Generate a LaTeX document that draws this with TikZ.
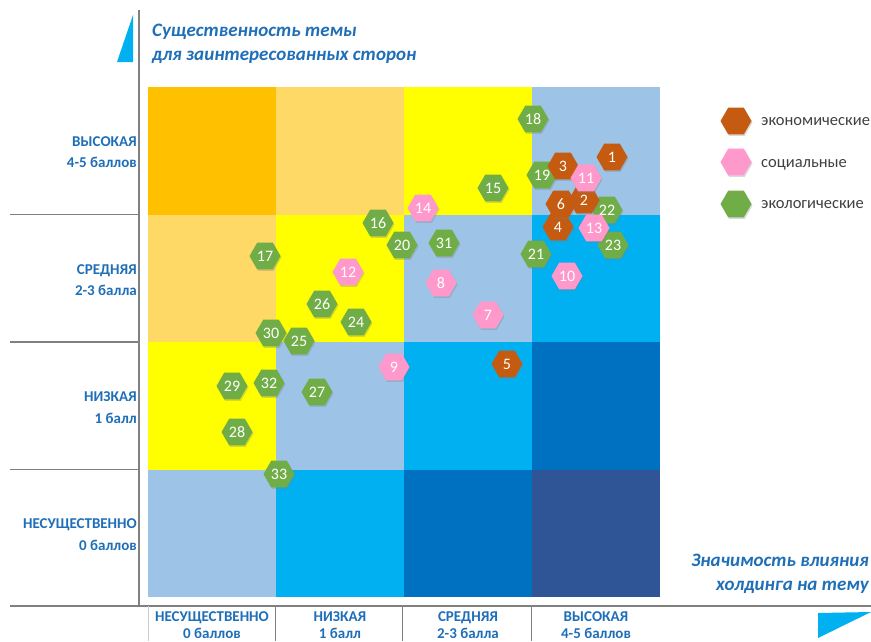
\documentclass[tikz,border=0pt]{standalone}
\usepackage{fontspec}
\setmainfont{Carlito}
\usetikzlibrary{shapes.geometric,shadows}
\definecolor{cellorange}{HTML}{FFC000}
\definecolor{cellpeach}{HTML}{FFD966}
\definecolor{cellyellow}{HTML}{FFFF00}
\definecolor{celllight}{HTML}{9DC3E6}
\definecolor{cellcyan}{HTML}{00B0F0}
\definecolor{cellblue}{HTML}{0070C0}
\definecolor{celldark}{HTML}{2F5597}
\definecolor{axisblue}{HTML}{1F6EB8}
\definecolor{axisgray}{HTML}{808080}
\definecolor{hexecon}{HTML}{C55A11}
\definecolor{hexsoc}{HTML}{FF99CC}
\definecolor{hexecol}{HTML}{70AD47}
\definecolor{legendtext}{HTML}{404040}
\tikzset{
	hexnode/.style={regular polygon, regular polygon sides=6, minimum size=31pt, inner sep=0pt,
		text=white, font=\fontsize{16}{16}\selectfont,
		drop shadow={opacity=0.3, shadow xshift=1pt, shadow yshift=-1.5pt}},
	econ/.style={hexnode, fill=hexecon},
	soc/.style={hexnode, fill=hexsoc},
	ecol/.style={hexnode, fill=hexecol},
	titletext/.style={text=axisblue, font=\bfseries\itshape\fontsize{19}{19}\selectfont, inner sep=0pt},
	levelname/.style={text=axisblue, font=\bfseries\fontsize{15}{15}\selectfont, inner sep=0pt},
	legendname/.style={text=legendtext, font=\fontsize{16.5}{16.5}\selectfont, inner sep=0pt}
}

\begin{document}
\begin{tikzpicture}[x=1pt, y=-1pt]
	%%%%% START %%%%%
	\useasboundingbox (0, 0) rectangle (871, 641);
	
	% matrix cells
	\fill[cellorange] (148, 87) rectangle (276, 214.5);
	\fill[cellpeach] (276, 87) rectangle (404, 214.5);
	\fill[cellyellow] (404, 87) rectangle (532, 214.5);
	\fill[celllight] (532, 87) rectangle (660, 214.5);
	
	\fill[cellpeach] (148, 214.5) rectangle (276, 342);
	\fill[cellyellow] (276, 214.5) rectangle (404, 342);
	\fill[celllight] (404, 214.5) rectangle (532, 342);
	\fill[cellcyan] (532, 214.5) rectangle (660, 342);
	
	\fill[cellyellow] (148, 342) rectangle (276, 469.5);
	\fill[celllight] (276, 342) rectangle (404, 469.5);
	\fill[cellcyan] (404, 342) rectangle (532, 469.5);
	\fill[cellblue] (532, 342) rectangle (660, 469.5);
	
	\fill[celllight] (148, 469.5) rectangle (276, 597);
	\fill[cellcyan] (276, 469.5) rectangle (404, 597);
	\fill[cellblue] (404, 469.5) rectangle (532, 597);
	\fill[celldark] (532, 469.5) rectangle (660, 597);
	
	% axes and separators
	\draw[axisgray, line width=1.3pt] (139, 10) -- (139, 606);
	\draw[axisgray, line width=1.3pt] (10, 606) -- (871, 606);
	\draw[axisgray, line width=1.3pt] (10, 214.5) -- (139, 214.5);
	\draw[axisgray, line width=1.3pt] (10, 342) -- (139, 342);
	\draw[axisgray, line width=1.3pt] (10, 469.5) -- (139, 469.5);
	\draw[axisgray!40, line width=0.8pt] (148, 606) -- (148, 641);
	\draw[axisgray, line width=1pt] (275, 606) -- (275, 641);
	\draw[axisgray, line width=1pt] (402, 606) -- (402, 641);
	\draw[axisgray, line width=1pt] (531, 606) -- (531, 641);
	
	\fill[cellcyan] (133, 15) -- (133, 62) -- (117, 62) -- cycle;
	\fill[cellcyan] (818, 613) -- (871, 612) -- (818, 638) -- cycle;
	
	% axis titles
	\node[titletext, anchor=base west] (ytitle1) at (152, 36) {Существенность темы};
	\node[titletext, anchor=base west] (ytitle2) at (152, 60) {для заинтересованных сторон};
	\node[titletext, anchor=base east] (xtitle1) at (869, 566) {Значимость влияния};
	\node[titletext, anchor=base east] (xtitle2) at (869, 590) {холдинга на тему};
	
	% vertical scale
	\node[levelname, anchor=base east] (yhigh1) at (137, 146) {ВЫСОКАЯ};
	\node[levelname, anchor=base east] (yhigh2) at (137, 167) {4-5 баллов};
	\node[levelname, anchor=base east] (ymid1) at (137, 274) {СРЕДНЯЯ};
	\node[levelname, anchor=base east] (ymid2) at (137, 295) {2-3 балла};
	\node[levelname, anchor=base east] (ylow1) at (137, 401) {НИЗКАЯ};
	\node[levelname, anchor=base east] (ylow2) at (137, 423) {1 балл};
	\node[levelname, anchor=base east] (ynone1) at (137, 528) {НЕСУЩЕСТВЕННО};
	\node[levelname, anchor=base east] (ynone2) at (137, 550) {0 баллов};
	
	% horizontal scale
	\node[levelname, anchor=base] (xnone1) at (212, 621) {НЕСУЩЕСТВЕННО};
	\node[levelname, anchor=base] (xnone2) at (212, 638.5) {0 баллов};
	\node[levelname, anchor=base] (xlow1) at (340, 621) {НИЗКАЯ};
	\node[levelname, anchor=base] (xlow2) at (340, 638.5) {1 балл};
	\node[levelname, anchor=base] (xmid1) at (468, 621) {СРЕДНЯЯ};
	\node[levelname, anchor=base] (xmid2) at (468, 638.5) {2-3 балла};
	\node[levelname, anchor=base] (xhigh1) at (596, 621) {ВЫСОКАЯ};
	\node[levelname, anchor=base] (xhigh2) at (596, 638.5) {4-5 баллов};
	
	% legend
	\node[econ] (legecon) at (736, 121) {};
	\node[soc] (legsoc) at (736, 162) {};
	\node[ecol] (legecol) at (736, 204) {};
	\node[legendname, anchor=base west] (legeconlbl) at (761, 125) {экономические};
	\node[legendname, anchor=base west] (legsoclbl) at (761, 167) {социальные};
	\node[legendname, anchor=base west] (legecollbl) at (761, 208) {экологические};
	
	% ecological topics
	\node[ecol] (t15) at (493, 188) {15};
	\node[ecol] (t16) at (378, 223) {16};
	\node[ecol] (t17) at (265, 256) {17};
	\node[ecol] (t18) at (533, 119) {18};
	\node[ecol] (t19) at (542, 175) {19};
	\node[ecol] (t20) at (402, 245) {20};
	\node[ecol] (t21) at (536, 254) {21};
	\node[ecol] (t22) at (607, 210) {22};
	\node[ecol] (t23) at (613, 245) {23};
	\node[ecol] (t24) at (356, 322) {24};
	\node[ecol] (t26) at (322, 304) {26};
	\node[ecol] (t27) at (317, 392) {27};
	\node[ecol] (t28) at (237, 432) {28};
	\node[ecol] (t29) at (232, 386) {29};
	\node[ecol] (t30) at (271, 333) {30};
	\node[ecol] (t25) at (299, 341) {25};
	\node[ecol] (t31) at (444, 243) {31};
	\node[ecol] (t32) at (269, 383) {32};
	\node[ecol] (t33) at (279, 474) {33};
	
	% economic topics
	\node[econ] (t1) at (612, 157) {1};
	\node[econ] (t2) at (584, 200) {2};
	\node[econ] (t3) at (563, 166) {3};
	\node[econ] (t4) at (558, 227) {4};
	\node[econ] (t5) at (507, 364) {5};
	\node[econ] (t6) at (561, 204) {6};
	
	% social topics
	\node[soc] (t7) at (488, 315) {7};
	\node[soc] (t8) at (441, 283) {8};
	\node[soc] (t9) at (394, 367) {9};
	\node[soc] (t10) at (567, 276) {10};
	\node[soc] (t11) at (586, 178) {11};
	\node[soc] (t12) at (348, 272) {12};
	\node[soc] (t13) at (594, 228) {13};
	\node[soc] (t14) at (423, 208) {14};
	
	%%%%% END %%%%%
\end{tikzpicture}
\end{document}
